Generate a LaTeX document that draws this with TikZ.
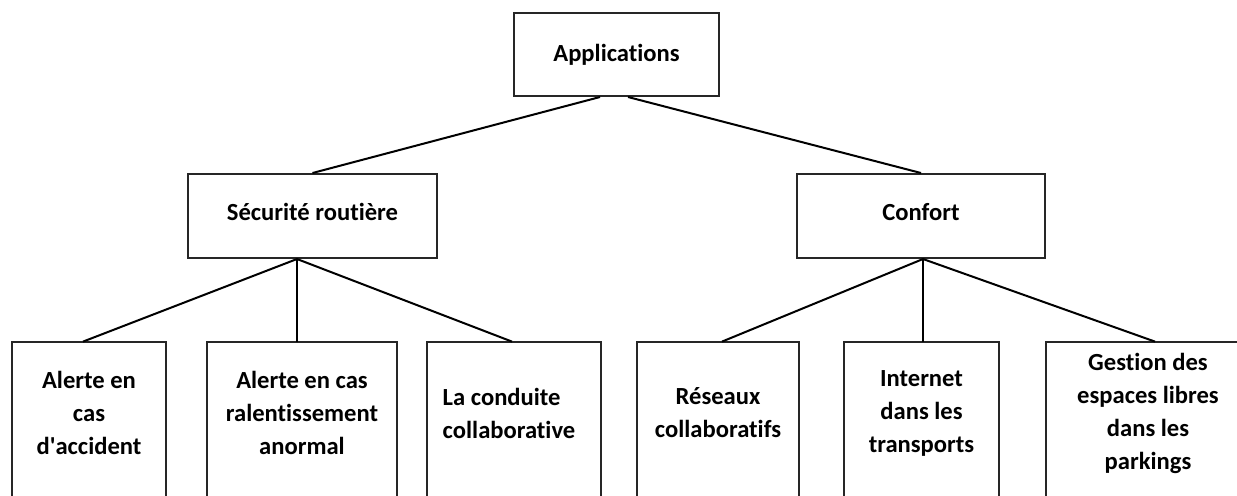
\documentclass[tikz,border=0pt]{standalone}
\usepackage{fontspec}
\setmainfont{Carlito}[Ligatures={NoCommon}]
\usetikzlibrary{calc}

\tikzset{
  box/.style={draw=black!85, line width=1pt, rectangle, inner sep=0pt,
              font=\bfseries\fontsize{12.3}{16.5}\selectfont, align=center},
  leaf/.style={rectangle, inner sep=0pt, minimum height=71pt,
               font=\bfseries\fontsize{12.3}{16.5}\selectfont, align=center},
  side/.style={draw=black!85, line width=1pt},
  link/.style={draw=black, line width=1pt},
}

\begin{document}
\begin{tikzpicture}[x=0.5pt, y=-0.5pt]
  \useasboundingbox (0,0) rectangle (1237,495);
  \clip (0,0) rectangle (1237,495);

  % root and the two branches
  \node[box, minimum width=102.5pt, minimum height=41.5pt] (app)  at (616.5,54.5) {Applications};
  \node[box, minimum width=124.5pt, minimum height=42pt, text depth=4pt] (sec)  at (312.5,216) {Sécurité routière};
  \node[box, minimum width=124pt,   minimum height=42pt, text depth=4pt] (conf) at (921,216)   {Confort};

  % leaves: open boxes running off the lower edge
  \coordinate (low) at (0,510);
  \node[leaf, minimum width=77pt]  (b1) at (89,413)    {Alerte en\\cas\\d\textquotesingle accident};
  \node[leaf, minimum width=95pt]  (b2) at (302,413)   {Alerte en cas\\ralentissement\\anormal};
  \node[leaf, minimum width=87pt, align=left] (b3) at (514,413) {La conduite\\collaborative\hspace*{5pt}};
  \node[leaf, minimum width=81pt]  (b4) at (718,413)   {Réseaux\\collaboratifs};
  \node[leaf, minimum width=77.5pt] (b5) at (921.5,413) {Internet\\dans les\\transports};
  \node[leaf, minimum width=102pt] (b6) at (1148,413)  {Gestion des\\espaces libres\\dans les\\parkings};

  \foreach \n in {b1,b2,b3,b4,b5,b6}
    \draw[side] (\n.north west |- low) -- (\n.north west) -- (\n.north east) -- (\n.north east |- low);

  % connectors
  \draw[link] ($(app.south)+(-16.5,0)$) -- (sec.north);
  \draw[link] ($(app.south)+(11.5,0)$)  -- (conf.north);

  \coordinate (sj) at ($(sec.south)+(-15.5,0)$);
  \draw[link] (sj) -- ($(b1.north)+(-6,0)$);
  \draw[link] (sj) -- (sj |- b2.north);
  \draw[link] (sj) -- ($(b3.north)+(-2,0)$);

  \coordinate (cj) at ($(conf.south)+(2,0)$);
  \draw[link] (cj) -- ($(b4.north)+(4,0)$);
  \draw[link] (cj) -- (cj |- b5.north);
  \draw[link] (cj) -- ($(b6.north)+(7,0)$);
\end{tikzpicture}
\end{document}
